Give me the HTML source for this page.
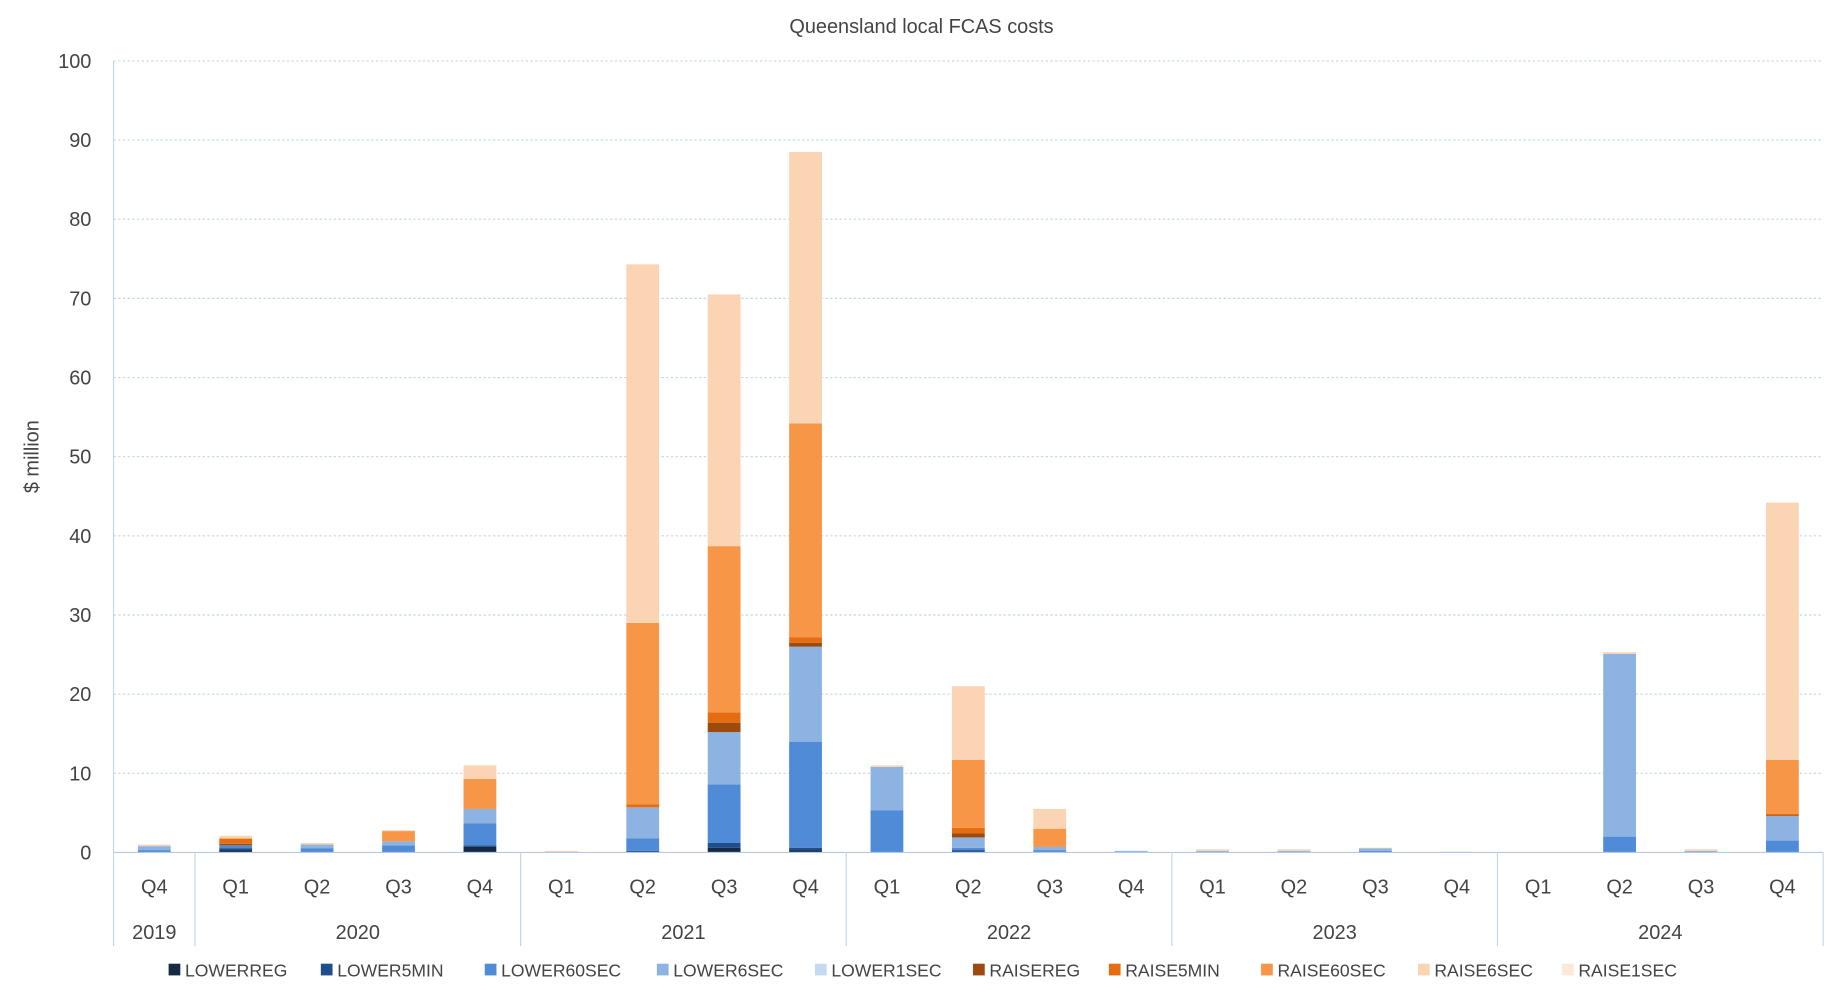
<!DOCTYPE html>
<html><head><meta charset="utf-8"><style>
html,body{margin:0;padding:0;background:#fff;}
svg{display:block;font-family:"Liberation Sans",sans-serif;}
</style></head><body>
<svg id="chart" width="1836" height="993" viewBox="0 0 1568 848" xmlns="http://www.w3.org/2000/svg">
<text x="787" y="28" text-anchor="middle" font-size="17" fill="#444">Queensland local FCAS costs</text>
<text transform="translate(33,390) rotate(-90)" text-anchor="middle" font-size="17" fill="#444">$ million</text>
<g id="grid"></g><g id="bars"></g><g id="axis"></g><g id="legend"></g>
</svg>
<script>
const quarters=["Q4","Q1","Q2","Q3","Q4","Q1","Q2","Q3","Q4","Q1","Q2","Q3","Q4","Q1","Q2","Q3","Q4","Q1","Q2","Q3","Q4"];
const years=["2019","2020","2021","2022","2023","2024"];
const yearSpans=[1,4,4,4,4,4];
const seriesNames=["LOWERREG","LOWER5MIN","LOWER60SEC","LOWER6SEC","LOWER1SEC","RAISEREG","RAISE5MIN","RAISE60SEC","RAISE6SEC","RAISE1SEC"];
const colors=["#172a45","#1f4e8c","#4f8bd6","#8db3e2","#c5d9f1","#9c4a0e","#e66c11","#f79646","#fbd4b4","#fde9d9"];
const LOWERREG  =[0,0.3,0,0,0.7,0,0,0.6,0.3,0,0,0,0,0,0,0,0,0,0,0,0];
const LOWER5MIN =[0,0.2,0,0,0.2,0,0.2,0.6,0.3,0,0.3,0,0,0,0,0,0,0,0,0,0];
const LOWER60SEC=[0.3,0.4,0.5,0.9,2.8,0,1.6,7.4,13.4,5.3,0.3,0.3,0,0,0,0.2,0,0,2,0.1,1.5];
const LOWER6SEC =[0.5,0,0.5,0.5,1.8,0,3.9,6.6,12,5.5,1.3,0.4,0.2,0.2,0.2,0.3,0,0,23.1,0.1,3.1];
const LOWER1SEC =[0,0,0,0,0,0,0,0,0,0,0,0,0,0,0,0,0,0,0,0,0];
const RAISEREG  =[0,0.2,0,0,0,0,0,1.2,0.5,0,0.5,0,0,0,0,0,0,0,0,0,0.1];
const RAISE5MIN =[0,0.6,0,0,0,0,0.4,1.3,0.7,0,0.7,0,0,0,0,0,0,0,0,0,0.2];
const RAISE60SEC=[0,0.1,0,1.3,3.8,0,22.9,21,27,0,8.6,2.3,0,0,0,0,0,0,0,0,6.8];
const RAISE6SEC =[0.2,0.3,0.2,0.1,1.7,0.2,45.3,31.8,34.3,0.2,9.3,2.5,0,0.2,0.2,0.1,0.1,0,0.2,0.2,32.5];
const RAISE1SEC =[0,0,0,0,0,0,0,0,0,0,0,0,0,0,0,0,0,0,0,0,0];
const yTicks=[0,10,20,30,40,50,60,70,80,90,100];
const series=[LOWERREG,LOWER5MIN,LOWER60SEC,LOWER6SEC,LOWER1SEC,RAISEREG,RAISE5MIN,RAISE60SEC,RAISE6SEC,RAISE1SEC];
const NS="http://www.w3.org/2000/svg";
const L=97,R=1557,T=52,B=728,yMax=100;
const n=quarters.length, bw=(R-L)/n;
const y=v=>B-(v/yMax)*(B-T);
const xc=i=>L+bw*(i+0.5);
function mk(tag,attrs,parent){const e=document.createElementNS(NS,tag);for(const k in attrs)e.setAttribute(k,attrs[k]);parent.appendChild(e);return e;}
const grid=document.getElementById('grid'),bars=document.getElementById('bars'),axis=document.getElementById('axis'),legend=document.getElementById('legend');
yTicks.forEach(t=>{
  if(t>0){const g=mk('line',{x1:L,x2:R,y1:y(t),y2:y(t),stroke:'#c5d5ea','stroke-dasharray':'2,2'},grid);
  
  }
  const tx=mk('text',{x:78,y:y(t)+6,'text-anchor':'end','font-size':17,fill:'#444'},grid);tx.textContent=t;
  
  
});
const va=mk('line',{x1:L,x2:L,y1:T,y2:B,stroke:'#c5d5ea'},grid);


for(let i=0;i<n;i++){
  let acc=0;
  series.forEach((s,k)=>{const v=s[i];if(v>0){
    const r=mk('rect',{x:xc(i)-14,width:28,y:y(acc+v),height:y(acc)-y(acc+v),fill:colors[k]},bars);
    
    
    acc+=v;}});
  const q=mk('text',{x:xc(i),y:763,'text-anchor':'middle','font-size':17,fill:'#444'},axis);q.textContent=quarters[i];
  
  
}
const xa=mk('line',{x1:L,x2:R,y1:B,y2:B,stroke:'#b4c7e7'},axis);


let start=0;
mk('line',{x1:L,x2:L,y1:B,y2:808,stroke:'#c5d5ea'},axis);
years.forEach((yr,j)=>{
  const end=start+yearSpans[j];
  const t=mk('text',{x:L+bw*(start+end)/2,y:802,'text-anchor':'middle','font-size':17,fill:'#444'},axis);t.textContent=yr;
  
  
  const sep=mk('line',{x1:L+bw*end,x2:L+bw*end,y1:B,y2:808,stroke:'#c5d5ea'},axis);
  
  
  start=end;
});
const lx=[145,275,415,562,697,832,948,1078,1212,1335];
seriesNames.forEach((nm,k)=>{
  const g=mk('g',{},legend);
  
  
  mk('rect',{x:lx[k]-1,y:823,width:10,height:10,fill:colors[k]},g);
  const t=mk('text',{x:lx[k]+13,y:834,'font-size':15,fill:'#444'},g);t.textContent=nm;
});
</script>
</body></html>
